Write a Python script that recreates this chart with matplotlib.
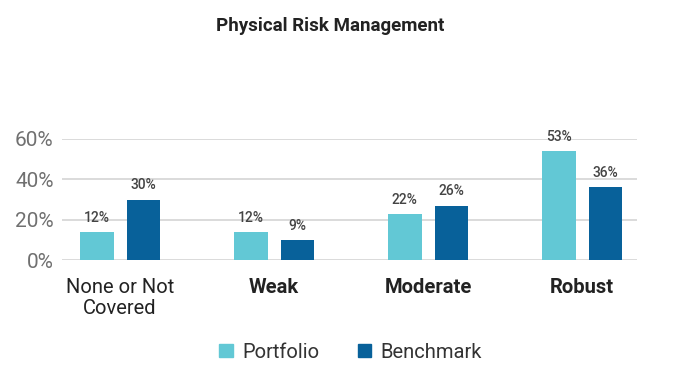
import numpy as np
import matplotlib
matplotlib.use("Agg")
import matplotlib.pyplot as plt
from matplotlib.patches import Patch

plt.rcParams["font.family"] = ["Roboto", "DejaVu Sans"]

# ── Data ──────────────────────────────────────────────────────────────────────
categories = ["None or Not\nCovered", "Weak", "Moderate", "Robust"]
cat_bold = [False, True, True, True]
portfolio = [14, 14, 23, 54]          # bar heights as drawn
benchmark = [30, 10, 27, 36]
portfolio_labels = ["12%", "12%", "22%", "53%"]
benchmark_labels = ["30%", "9%", "26%", "36%"]
yticks = [0, 20, 40, 60]

PORT_COLOR = "#62c8d5"
BENCH_COLOR = "#08619a"

fig = plt.figure(figsize=(6.86, 3.86), dpi=100)
ax = fig.add_axes([0.0904, 0.3264, 0.8382, 0.3135])

x = np.arange(len(categories))
w = 0.22
off = 0.152
ax.bar(x - off, portfolio, width=w, color=PORT_COLOR, zorder=3)
ax.bar(x + off, benchmark, width=w, color=BENCH_COLOR, zorder=3)

for xi, v, lab in zip(x - off, portfolio, portfolio_labels):
    ax.text(xi, v + 3.5, lab, ha="center", va="bottom", fontsize=10,
            color="#444444", fontweight="medium")
for xi, v, lab in zip(x + off, benchmark, benchmark_labels):
    ax.text(xi, v + 3.5, lab, ha="center", va="bottom", fontsize=10,
            color="#444444", fontweight="medium")

ax.set_xlim(-0.377, 3.357)
ax.set_ylim(0, 60)
ax.set_yticks(yticks)
ax.set_yticklabels([f"{t}%" for t in yticks], fontsize=15, color="#707070")
ax.yaxis.grid(True, color="#d4d4d4", linewidth=1.2, zorder=0)
ax.set_axisbelow(True)
ax.tick_params(axis="y", length=0, pad=6)
ax.tick_params(axis="x", length=0, pad=13)
ax.set_xticks(x)
ax.set_xticklabels(categories, fontsize=14.5, color="#222222", linespacing=1.15)
for lbl, b in zip(ax.get_xticklabels(), cat_bold):
    lbl.set_va("top")
    if b:
        lbl.set_fontweight("bold")
for s in ax.spines.values():
    s.set_visible(False)

fig.text(0.481, 0.932, "Physical Risk Management", ha="center", va="center",
         fontsize=13.5, fontweight="bold", color="#222222")

handles = [Patch(color=PORT_COLOR, label="Portfolio"),
           Patch(color=BENCH_COLOR, label="Benchmark")]
fig.legend(handles=handles, loc="center", bbox_to_anchor=(0.511, 0.088), ncol=2,
           frameon=False, fontsize=14.5, handlelength=0.68, handleheight=0.68,
           columnspacing=1.9, handletextpad=0.45, labelcolor="#333333")

fig.savefig("out.png", dpi=100)
